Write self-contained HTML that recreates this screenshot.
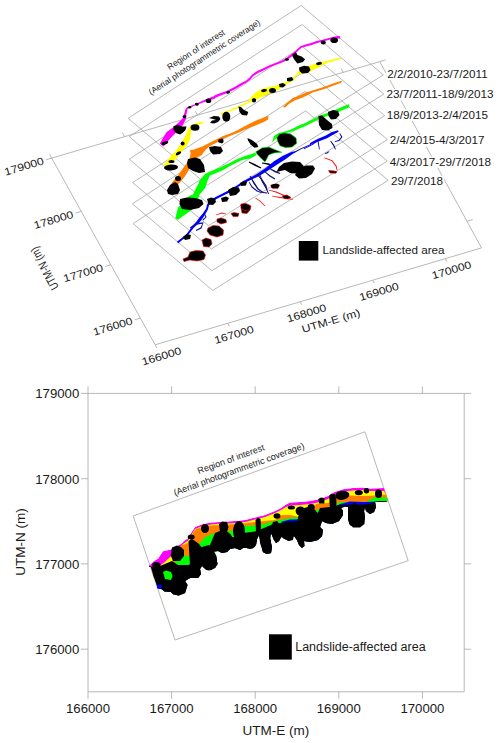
<!DOCTYPE html>
<html><head><meta charset="utf-8"><style>
html,body{margin:0;padding:0;background:#fff;}
svg{display:block;font-family:"Liberation Sans",sans-serif;}
</style></head><body>
<svg width="500" height="743" viewBox="0 0 500 743">
<rect width="500" height="743" fill="#fff"/>
<line x1="51.7" y1="158.1" x2="155.2" y2="344.8" stroke="#a6a6a6" stroke-width="0.8"/>
<line x1="155.2" y1="344.8" x2="481.5" y2="247.9" stroke="#a6a6a6" stroke-width="0.8"/>
<line x1="51.7" y1="158.1" x2="379.8" y2="61.6" stroke="#a6a6a6" stroke-width="0.8"/>
<line x1="379.8" y1="61.6" x2="481.5" y2="247.9" stroke="#a6a6a6" stroke-width="0.8"/>
<line x1="140.4" y1="318.1" x2="134.7" y2="319.8" stroke="#a6a6a6" stroke-width="0.8"/>
<line x1="467" y1="221.3" x2="472.7" y2="219.6" stroke="#a6a6a6" stroke-width="0.8"/>
<line x1="110.8" y1="264.8" x2="105.1" y2="266.5" stroke="#a6a6a6" stroke-width="0.8"/>
<line x1="437.9" y1="168.1" x2="443.7" y2="166.3" stroke="#a6a6a6" stroke-width="0.8"/>
<line x1="81.3" y1="211.4" x2="75.5" y2="213.2" stroke="#a6a6a6" stroke-width="0.8"/>
<line x1="408.9" y1="114.8" x2="414.6" y2="113.1" stroke="#a6a6a6" stroke-width="0.8"/>
<line x1="51.7" y1="158.1" x2="45.9" y2="159.8" stroke="#a6a6a6" stroke-width="0.8"/>
<line x1="379.8" y1="61.6" x2="385.6" y2="59.9" stroke="#a6a6a6" stroke-width="0.8"/>
<line x1="155.2" y1="344.8" x2="156.9" y2="347.9" stroke="#a6a6a6" stroke-width="0.8"/>
<line x1="51.7" y1="158.1" x2="49.5" y2="154.2" stroke="#a6a6a6" stroke-width="0.8"/>
<line x1="227.7" y1="323.3" x2="229.4" y2="326.3" stroke="#a6a6a6" stroke-width="0.8"/>
<line x1="124.6" y1="136.7" x2="122.4" y2="132.7" stroke="#a6a6a6" stroke-width="0.8"/>
<line x1="300.2" y1="301.7" x2="301.9" y2="304.8" stroke="#a6a6a6" stroke-width="0.8"/>
<line x1="197.5" y1="115.2" x2="195.3" y2="111.3" stroke="#a6a6a6" stroke-width="0.8"/>
<line x1="372.7" y1="280.2" x2="374.4" y2="283.3" stroke="#a6a6a6" stroke-width="0.8"/>
<line x1="270.4" y1="93.8" x2="268.3" y2="89.8" stroke="#a6a6a6" stroke-width="0.8"/>
<line x1="445.2" y1="258.7" x2="446.9" y2="261.7" stroke="#a6a6a6" stroke-width="0.8"/>
<line x1="343.3" y1="72.3" x2="341.2" y2="68.4" stroke="#a6a6a6" stroke-width="0.8"/>
<polygon points="128.1,118.3 301.2,5.5 383.4,74.9 207.3,185" fill="none" stroke="#a6a6a6" stroke-width="0.8"/>
<polygon points="129.2,136.6 302.1,24.5 383.9,94.1 208.1,203.5" fill="none" stroke="#a6a6a6" stroke-width="0.8"/>
<polygon points="129.2,159.2 302.4,46.5 384.6,115.7 208.5,225.7" fill="none" stroke="#a6a6a6" stroke-width="0.8"/>
<polygon points="132.7,182.6 305.9,70.5 387.4,139.6 211.3,249" fill="none" stroke="#a6a6a6" stroke-width="0.8"/>
<polygon points="132.4,203.8 305,91.4 387.3,161.1 211.9,270.7" fill="none" stroke="#a6a6a6" stroke-width="0.8"/>
<polygon points="133.1,223.6 305.7,110.8 388.2,180.3 212.8,290.4" fill="none" stroke="#a6a6a6" stroke-width="0.8"/>
<text x="0" y="0" font-size="12" text-anchor="end" dominant-baseline="central" fill="#1a1a1a" transform="translate(43.6,160.5) rotate(-16.54) scale(1.02,0.88)">179000</text>
<text x="0" y="0" font-size="12" text-anchor="end" dominant-baseline="central" fill="#1a1a1a" transform="translate(73.1,213.9) rotate(-16.54) scale(1.02,0.88)">178000</text>
<text x="0" y="0" font-size="12" text-anchor="end" dominant-baseline="central" fill="#1a1a1a" transform="translate(102.7,267.2) rotate(-16.54) scale(1.02,0.88)">177000</text>
<text x="0" y="0" font-size="12" text-anchor="end" dominant-baseline="central" fill="#1a1a1a" transform="translate(132.3,320.5) rotate(-16.54) scale(1.02,0.88)">176000</text>
<text x="0" y="0" font-size="12" text-anchor="middle" dominant-baseline="central" fill="#1a1a1a" transform="translate(161.5,356.2) rotate(-16.54) scale(1.02,0.88)">166000</text>
<text x="0" y="0" font-size="12" text-anchor="middle" dominant-baseline="central" fill="#1a1a1a" transform="translate(234,334.6) rotate(-16.54) scale(1.02,0.88)">167000</text>
<text x="0" y="0" font-size="12" text-anchor="middle" dominant-baseline="central" fill="#1a1a1a" transform="translate(306.5,313.1) rotate(-16.54) scale(1.02,0.88)">168000</text>
<text x="0" y="0" font-size="12" text-anchor="middle" dominant-baseline="central" fill="#1a1a1a" transform="translate(379,291.6) rotate(-16.54) scale(1.02,0.88)">169000</text>
<text x="0" y="0" font-size="12" text-anchor="middle" dominant-baseline="central" fill="#1a1a1a" transform="translate(451.5,270) rotate(-16.54) scale(1.02,0.88)">170000</text>
<text x="0" y="0" font-size="12" text-anchor="middle" dominant-baseline="central" fill="#1a1a1a" transform="translate(331,320.8) rotate(-16.54) scale(1.02,0.88)">UTM-E (m)</text>
<text x="0" y="0" font-size="12" text-anchor="middle" dominant-baseline="central" fill="#1a1a1a" transform="translate(44.2,268.6) rotate(-118) scale(0.78,1)">UTM-N (m)</text>
<text x="197.5" y="52" font-size="8.5" text-anchor="middle" fill="#1a1a1a" transform="rotate(-33 197.5 52)">Region of interest</text>
<text x="206" y="59.5" font-size="8.5" text-anchor="middle" fill="#1a1a1a" transform="rotate(-33 206 59.5)">(Aerial photogrammetric coverage)</text>
<rect x="298.8" y="241" width="19.5" height="19.6" fill="#000"/>
<text x="322.6" y="254.3" font-size="11.7" text-anchor="start" fill="#1a1a1a">Landslide-affected area</text>
<line x1="88" y1="393.4" x2="464.2" y2="393.4" stroke="#a6a6a6" stroke-width="0.8"/>
<line x1="88" y1="393.4" x2="88" y2="691.8" stroke="#a6a6a6" stroke-width="0.8"/>
<line x1="88" y1="691.8" x2="464.2" y2="691.8" stroke="#a6a6a6" stroke-width="0.8"/>
<line x1="464.2" y1="393.4" x2="464.2" y2="691.8" stroke="#a6a6a6" stroke-width="0.8"/>
<line x1="88" y1="691.8" x2="88" y2="698.8" stroke="#a6a6a6" stroke-width="0.8"/>
<line x1="88" y1="393.4" x2="88" y2="386.4" stroke="#a6a6a6" stroke-width="0.8"/>
<text x="88" y="713.4" font-size="13.2" text-anchor="middle" fill="#1a1a1a">166000</text>
<line x1="171.6" y1="691.8" x2="171.6" y2="698.8" stroke="#a6a6a6" stroke-width="0.8"/>
<line x1="171.6" y1="393.4" x2="171.6" y2="386.4" stroke="#a6a6a6" stroke-width="0.8"/>
<text x="171.6" y="713.4" font-size="13.2" text-anchor="middle" fill="#1a1a1a">167000</text>
<line x1="255.2" y1="691.8" x2="255.2" y2="698.8" stroke="#a6a6a6" stroke-width="0.8"/>
<line x1="255.2" y1="393.4" x2="255.2" y2="386.4" stroke="#a6a6a6" stroke-width="0.8"/>
<text x="255.2" y="713.4" font-size="13.2" text-anchor="middle" fill="#1a1a1a">168000</text>
<line x1="338.8" y1="691.8" x2="338.8" y2="698.8" stroke="#a6a6a6" stroke-width="0.8"/>
<line x1="338.8" y1="393.4" x2="338.8" y2="386.4" stroke="#a6a6a6" stroke-width="0.8"/>
<text x="338.8" y="713.4" font-size="13.2" text-anchor="middle" fill="#1a1a1a">169000</text>
<line x1="422.4" y1="691.8" x2="422.4" y2="698.8" stroke="#a6a6a6" stroke-width="0.8"/>
<line x1="422.4" y1="393.4" x2="422.4" y2="386.4" stroke="#a6a6a6" stroke-width="0.8"/>
<text x="422.4" y="713.4" font-size="13.2" text-anchor="middle" fill="#1a1a1a">170000</text>
<line x1="81" y1="649.2" x2="88" y2="649.2" stroke="#a6a6a6" stroke-width="0.8"/>
<line x1="464.2" y1="649.2" x2="471.2" y2="649.2" stroke="#a6a6a6" stroke-width="0.8"/>
<text x="79.3" y="654" font-size="13.2" text-anchor="end" fill="#1a1a1a">176000</text>
<line x1="81" y1="563.9" x2="88" y2="563.9" stroke="#a6a6a6" stroke-width="0.8"/>
<line x1="464.2" y1="563.9" x2="471.2" y2="563.9" stroke="#a6a6a6" stroke-width="0.8"/>
<text x="79.3" y="568.7" font-size="13.2" text-anchor="end" fill="#1a1a1a">177000</text>
<line x1="81" y1="478.7" x2="88" y2="478.7" stroke="#a6a6a6" stroke-width="0.8"/>
<line x1="464.2" y1="478.7" x2="471.2" y2="478.7" stroke="#a6a6a6" stroke-width="0.8"/>
<text x="79.3" y="483.5" font-size="13.2" text-anchor="end" fill="#1a1a1a">178000</text>
<line x1="81" y1="393.4" x2="88" y2="393.4" stroke="#a6a6a6" stroke-width="0.8"/>
<line x1="464.2" y1="393.4" x2="471.2" y2="393.4" stroke="#a6a6a6" stroke-width="0.8"/>
<text x="79.3" y="398.2" font-size="13.2" text-anchor="end" fill="#1a1a1a">179000</text>
<text x="275.8" y="735" font-size="13.5" text-anchor="middle" fill="#1a1a1a">UTM-E (m)</text>
<text x="0" y="0" font-size="13.5" text-anchor="middle" fill="#1a1a1a" transform="translate(25.3,542) rotate(-90)">UTM-N (m)</text>
<polygon points="133.2,516 365,431.8 408.2,560.7 175,640" fill="none" stroke="#a6a6a6" stroke-width="0.8"/>
<text x="232" y="462" font-size="9" text-anchor="middle" fill="#1a1a1a" transform="rotate(-20 232 462)">Region of interest</text>
<text x="240" y="472" font-size="9" text-anchor="middle" fill="#1a1a1a" transform="rotate(-20 240 472)">(Aerial photogrammetric coverage)</text>
<rect x="269" y="634.3" width="22.8" height="25.3" fill="#000"/>
<text x="295.2" y="651" font-size="12.5" text-anchor="start" fill="#1a1a1a">Landslide-affected area</text>
<polygon points="214.5,98.3 219.4,95.9 227.4,93.1 235.5,89 241.3,85.4 246.9,82.3 250.7,79.2 253.1,76.3 258.1,72.9 263.6,70.4 269.2,67.5 275.4,65.1 281,63 286.8,60.2 292.4,55.9 296.6,52.3 301.4,47.8 306,46.4 311.7,44.9 317.3,42.9 322.8,41.5 328.4,40.1 334,38.8 338.1,38.4 339.8,38.7 340.2,36.3 337.9,36 333.6,36.8 328,38.3 322.4,39.7 316.7,41.1 311.1,43.1 305.6,44.6 300.4,46.2 295.4,50.9 291.2,54.3 285.6,58.4 280.2,61.2 274.6,63.3 268.4,65.7 262.8,68.6 257.1,71.1 251.9,74.7 249.3,77.8 245.9,80.7 240.3,83.6 234.5,87 226.6,90.9 218.6,93.7 213.5,96.1" fill="#ff00ff"/>
<polygon points="259,151.2 266,151.4 272,151.7 272,151.3 266,150.6 259,150.8" fill="#00ff00"/>
<polygon points="259.9,154.2 263.8,155.8 265.8,158.2 266.2,157.8 264.2,155.2 260.1,153.8" fill="#00ff00"/>
<polygon points="248.7,162.5 254.6,165.7 260.7,168.5 261.3,167.5 255.4,164.3 249.3,161.5" fill="#000"/>
<polygon points="261.9,163.5 267.8,164.7 273.8,166.5 274.2,165.5 268.2,163.3 262.1,162.5" fill="#000"/>
<polygon points="178.1,243.3 182.6,239.8 187.7,235.7 190.8,231.6 193.8,227.7 199.1,223 202.2,218.9 205,214.7 207.9,209.4 208.9,205.4 210.7,202.8 216.5,198.9 222.4,195.9 230.5,191.9 238.5,186.8 244.6,182.9 249.6,180.6 258.3,176.5 267.4,171.1 276.4,164.9 285.1,159.5 292.6,154.1 296.2,152.1 295.8,150.9 291.4,151.9 282.9,155.7 274,161.3 265.4,168.3 256.9,173.9 248.4,178.4 243.4,181.1 237.5,185.2 229.5,190.1 221.6,194.1 215.5,197.1 209.3,201.2 207.1,204.6 206.1,208.6 203,213.3 199.8,217.1 196.9,221 192.2,226.3 189.2,230.4 186.3,234.3 181.4,238.2 176.9,241.7" fill="#0000ff"/>
<polygon points="309.9,145.5 311.5,144.3 318.5,141.4 327,138.2 332.6,134.9 338.6,131.7 338,130.3 331.4,132.3 325.8,135.4 317.5,139 310.5,142.7 309.3,144.9" fill="#0000ff"/>
<polygon points="296.2,151.9 301.4,149.1 309.8,145.6 309.4,144.8 301,148.3 295.8,151.1" fill="#00008b"/>
<polygon points="304,149.2 312.9,144.8 317.3,141.5 316.7,140.7 312.3,144 303.6,148.4" fill="#0000ff"/>
<polygon points="317.6,139.7 318,144.1 319,149.5 319.8,149.3 319,143.9 318.4,139.5" fill="#1010a0"/>
<polygon points="330.2,141.3 332.9,145.3 335.1,149.6 335.9,149.2 334.1,144.7 331,140.7" fill="#1010a0"/>
<polygon points="339.4,133.5 341.1,136.9 338.7,140 334.7,141.3 334.9,142.1 339.3,141 342.5,137.1 340,133.1" fill="#1010a0"/>
<polygon points="325.1,154 327.3,153.5 329.4,151.8 329,151.2 326.7,152.5 324.9,153.2" fill="#1010a0"/>
<polygon points="259.4,174.1 261.5,181.2 265.5,188.3 268.2,194.2 269,193.8 266.5,187.7 262.5,180.8 260.2,173.9" fill="#1010a0"/>
<polygon points="248.7,182.2 251.6,187.4 256.7,191.5 261.9,193.2 262.1,192.4 257.3,190.5 252.4,186.6 249.3,181.8" fill="#1010a0"/>
<polygon points="190.3,228.4 196.3,224.7 202.4,223.7 200.5,227.5 195.8,230.1 196.2,230.9 201.5,228.5 203.6,222.3 195.7,223.3 189.7,227.6" fill="#1010a0"/>
<polygon points="203.6,213.2 205.4,216.9 202.6,219.6 203.4,220.4 206.6,217.1 204.4,212.8" fill="#1010a0"/>
<polygon points="324.2,158.2 331.7,161 335.8,166.4 336.6,170.1 337.4,169.9 336.6,166 332.3,160.2 324.4,157.4" fill="#ff0000"/>
<polygon points="268.5,190.3 275.9,192.4 282.9,195.4 289.9,197.3 290.1,196.7 283.1,194.6 276.1,191.6 268.7,189.7" fill="#ff0000"/>
<polygon points="271.9,196.3 279.9,197.9 292.7,199.7 292.9,199.1 280.1,197.1 272.1,195.7" fill="#ff0000"/>
<polygon points="255.2,198.3 259.7,201.3 264.8,206.2 265.2,205.8 260.3,200.7 255.6,197.7" fill="#ff0000"/>
<polygon points="216.1,215.3 222,213.4 225.9,214.3 226.1,213.7 222,212.6 215.9,214.7" fill="#ff0000"/>
<polygon points="249.6,176.2 253.4,183.4 257.5,189.5 262.7,193.1 266.9,193.4 267.1,192.6 263.3,191.9 258.5,188.5 254.6,182.6 250.4,175.8" fill="#10106a"/>
<polygon points="256.7,174.3 261.5,180.4 265.4,186.3 266.6,190.1 267.4,189.9 266.6,185.7 262.5,179.6 257.3,173.7" fill="#10106a"/>
<polygon points="263.7,171.3 269.6,176.5 274.7,179.5 275.3,178.5 270.4,175.5 264.3,170.7" fill="#10106a"/>
<polygon points="270.2,169.4 274.7,172.2 279.8,174 280.2,173 275.3,170.8 270.6,168.6" fill="#10106a"/>
<polygon points="159.8,143.6 166.4,132.2 173,127.4 177.2,123.8 182.6,118.4 184.4,113 185.6,108.8 187.4,107 191,105.8 195,104.2 199.4,102.2 205.4,99.6 211,97.2 215,96 215,98.4 209,100.6 203,102.4 197,104.8 191,107.2 187.6,109 186.5,114 186,119 182.5,125.6 177,131.5 171.5,137 166,143.5 163.4,146.5" fill="#ff00ff"/>
<polygon points="173.5,126 178,125 182,126.5 186.5,126.5 185.5,130 183,132.5 180,134.5 176,133 173.5,130" fill="#000"/>
<polygon points="292.5,54.4 296,52.3 297.4,55.1 301.6,56.5 305.1,59.3 303,62.1 297.4,63.5 294.6,60 292.5,56.5" fill="#000"/>
<polygon points="163.2,166 166.5,161.6 170.9,156.1 175.3,151.7 180.8,144 185.2,136.3 188.5,128.6 190.7,125.3 196.2,123.1 203.9,121.3 202.8,123.3 194,126.6 191.2,130.8 190.2,138.5 187.8,144 183.4,149.5 179,155 174.6,160.5 170.2,164 166.5,166.5" fill="#ffff00"/>
<polygon points="220,113.5 230,109.5 240,105.5 248,101.5 252,96 256,92 264,88 274,86 284,83 288,80.6 294.4,76.6 299.2,70.2 304,67 310.4,65.4 316.8,63 320,62.2 326,61 334,59 341,57.4 341,59 330,62 322,65 320,67 313.6,69.4 308.8,72.6 302.4,73.9 297.6,74.5 294,80 284,86 276,91 266,95 258,99 253,101.5 248,103.3 240,107.2 230,111.2 221,115" fill="#ffff00"/>
<polygon points="299,67.5 304,65.8 309,66.5 310.5,70 308,73 302,73.5 299.5,71" fill="#000"/>
<polygon points="238.4,106.5 241,107 244,110 248.3,112 247,115.5 242,115 239.5,112" fill="#000"/>
<polygon points="209,118 214,116 219,116.5 220.5,119 218,122 214,123.5 210,123 212,120.5 216,120 213,119" fill="#000"/>
<polygon points="279,84 283,83 286,85 283,87.5 279.5,87" fill="#000"/>
<polygon points="287,78 292,77 293.5,80 290,81.5 287,81" fill="#000"/>
<polygon points="167.6,190.2 172,182.5 177.5,175.9 183,168.2 186.3,163.8 189.6,159.4 190.7,152.8 189.6,150.6 194,149.5 202.8,146.2 211.6,141.8 216,139.6 222.6,136.3 231.4,133 238,130 244,126.6 250,123.6 256,120.6 262,118.2 266.8,116.4 268.6,116 268,119.4 264.4,121.8 258.4,124.2 252.4,126.8 244,130 240.2,131.9 229.2,136.3 222.6,139.6 216,142.9 209.4,146.2 205,150.6 201.7,155 196.2,158.3 191.8,163.8 188.5,170.4 185.2,175.9 180.8,181.4 176.4,185.8 172,191.3" fill="#ff7f00"/>
<polygon points="282.9,106.9 287.3,102.5 292.8,98.1 298.3,95.9 306,92.6 312.6,90.4 323.6,87.1 332.4,83.8 340.1,81.2 342.3,80.5 341.2,82.7 332.4,86 323.6,89.3 312.6,92.6 306,95.9 301.6,98.1 295,100.3 289.5,103.6 285.1,107.6" fill="#ff7f00"/>
<polygon points="188,159 195,157.5 200,159 204,165 205,172 199,173 193,171 188,168 187,163" fill="#000"/>
<polygon points="209,147 215,146 221,147 223,151 220,154 213,154.5 210,151" fill="#000"/>
<polygon points="167,190 170,185 175,182 178,184 180,190 178,194 172,195 168,194" fill="#000"/>
<polygon points="247.4,138 251.9,140 257.1,143.9 258.4,147.1 254.5,147.8 250.6,144.5 248,140.6" fill="#000"/>
<polygon points="175.3,218.4 178,207.6 183.4,202.2 189,196 193,194.6 196.1,187.9 198.4,183.8 199.5,180.5 202.5,177.1 205,174 210,171.5 215,169.5 220,167.5 225,165 230,163 235,160 240,158 245,156 250,154.5 255.8,152.5 255.8,155.5 250,158.5 245,159.2 240,161 235,163.5 230,166 225,169 220,171.5 215,173.5 210,175.5 207.9,179.8 206.5,183.8 205.2,187.9 201.8,191.9 199.1,195.3 198.4,199.3 195,205 191.5,210.3 183.4,215.7 178,219.7" fill="#00ff00"/>
<polygon points="272,142.6 274,136 277.9,133.5 281.8,132.2 287,130.9 292.2,128.9 297.4,126.3 300,125 303.8,123.8 312.6,119.4 319.2,116.1 328,112.8 336.8,109.3 343.4,106.3 349,104.3 349.5,107.3 343.4,109.8 336.8,112.8 328,115.8 319.2,119.1 312.6,122.4 303.8,126.8 300,128.3 293.5,130.9 287,132.8 280.5,135.4 276.6,137.4 274,140.6" fill="#00ff00"/>
<polygon points="180,199 187,197.5 195,198 202,200 203.5,204 199,208 190,210 182,209 179.5,204" fill="#000"/>
<polygon points="279.2,134.1 284.4,132.8 290.9,134.1 296.1,138 296.8,143.2 292.2,147.1 285.7,147.8 279.9,145.8 277.9,141.9 276.6,138" fill="#000" stroke="#00ff00" stroke-width="0.6"/>
<polygon points="318.5,116 322,115.5 327,120 332,124 332.5,128 328,130.5 322,130 319,125" fill="#000"/>
<polygon points="328,112 333,110 338,111 339.5,115 336,119 331,119.5 328.5,116" fill="#000"/>
<polygon points="255.8,151.7 262.3,147.8 268.8,147.1 275.3,149.7 281.8,152.3 274,153 268.8,154.9 266.2,160.1 264.9,162.1 261,158.2 257.1,154.3" fill="#000" stroke="#00ff00" stroke-width="0.6"/>
<polygon points="207,199 211,197.5 215,198.5 216,202 213,205 208.5,204.5" fill="#000"/>
<polygon points="221,198 226,196.5 229,198 227,201.5 222,202" fill="#000"/>
<polygon points="228,190 233,187 239,187.5 240,191 236,195 230,196" fill="#000"/>
<polygon points="240,183 244,181 247,182 246,185.5 241,186" fill="#000"/>
<polygon points="183,237 187,234 191,235 190,239 185,240" fill="#000"/>
<polygon points="284,163 292,161.5 300,162 303.8,166 302,171 296,173.5 290,173 285,170 276.5,172 279,167" fill="#000"/>
<polygon points="300,168 306,165.5 313,165.5 315,168.5 312,174 306,178 299,178.5 295,175" fill="#000"/>
<polygon points="190,252 196,250.5 203,251 205.5,255 204,259.5 197,261 190,260 184,261.5 183,259 188,257" fill="#000" stroke="#ff0000" stroke-width="0.6"/>
<polygon points="202,240 206,238 211,239.5 212,244 209,247 203.5,246.5" fill="#000" stroke="#ff0000" stroke-width="0.6"/>
<polygon points="208,228 213,225.5 219,226 223.5,230 223,235 217,237 210,235 207,231" fill="#000" stroke="#ff0000" stroke-width="0.6"/>
<polygon points="217,219 221,218 226,219.5 226.5,222.5 221,224 217,222" fill="#000" stroke="#ff0000" stroke-width="0.6"/>
<polygon points="241,207 245,204.5 249.5,205 250,210 247,213.5 242,213" fill="#000" stroke="#ff0000" stroke-width="0.6"/>
<polygon points="231,213.5 234,212.5 239,213.5 238,216.5 233,216.5" fill="#000" stroke="#ff0000" stroke-width="0.6"/>
<polygon points="240.5,205 245,204 249,207 248,210 243,209.5" fill="#000" stroke="#ff0000" stroke-width="0.6"/>
<polygon points="328.5,170.5 333,170.8 337,171.5 336,173.2 330,173" fill="#000" stroke="#ff0000" stroke-width="0.6"/>
<polygon points="270.8,185 275,184 279.6,185 278,188.4 272,188" fill="#000" stroke="#ff0000" stroke-width="0.6"/>
<polygon points="282,196 287,195 291,197.5 288,199 284,198.5" fill="#000" stroke="#ff0000" stroke-width="0.6"/>
<polygon points="241,204 246,203.5 251,206 250,210 245,210.5 241,208.5" fill="#000" stroke="#ff0000" stroke-width="0.6"/>
<ellipse cx="164.9" cy="143" rx="3.5" ry="1.6" fill="#000" transform="rotate(-20 164.9 143)"/>
<ellipse cx="184.4" cy="116.6" rx="1.8" ry="1.6" fill="#000"/>
<ellipse cx="189.8" cy="107.2" rx="1.5" ry="1.3" fill="#000"/>
<ellipse cx="197" cy="104.5" rx="1.6" ry="1.2" fill="#000"/>
<ellipse cx="208.5" cy="100.8" rx="2.8" ry="2.3" fill="#000"/>
<ellipse cx="228.2" cy="92.2" rx="2" ry="1.3" fill="#000" transform="rotate(-20 228.2 92.2)"/>
<ellipse cx="196.8" cy="103.8" rx="1.8" ry="1.1" fill="#000"/>
<ellipse cx="286.9" cy="59.5" rx="2" ry="1.3" fill="#000"/>
<ellipse cx="323.3" cy="42.5" rx="2.5" ry="2" fill="#000"/>
<ellipse cx="334.2" cy="40.2" rx="3.8" ry="2.8" fill="#000"/>
<ellipse cx="319" cy="63.6" rx="3" ry="1.5" fill="#000" transform="rotate(-10 319 63.6)"/>
<ellipse cx="272.5" cy="90.5" rx="3.5" ry="2.5" fill="#000"/>
<ellipse cx="264" cy="90.6" rx="3" ry="1.5" fill="#000" transform="rotate(-10 264 90.6)"/>
<ellipse cx="254" cy="100.5" rx="2" ry="2" fill="#000"/>
<ellipse cx="195" cy="127.5" rx="4.4" ry="3.3" fill="#000"/>
<ellipse cx="182.6" cy="143.4" rx="2" ry="2" fill="#000"/>
<ellipse cx="178.5" cy="153.3" rx="3" ry="1.5" fill="#000" transform="rotate(-30 178.5 153.3)"/>
<ellipse cx="171.5" cy="161.5" rx="3" ry="1.5" fill="#000"/>
<ellipse cx="171" cy="167.5" rx="7" ry="3" fill="#000" transform="rotate(-5 171 167.5)"/>
<ellipse cx="226.3" cy="116.8" rx="4" ry="5" fill="#000"/>
<ellipse cx="254" cy="100" rx="2.2" ry="1.8" fill="#000"/>
<ellipse cx="178" cy="178.5" rx="3" ry="2.5" fill="#000"/>
<ellipse cx="220.5" cy="141" rx="2.5" ry="2" fill="#000"/>
<ellipse cx="221.8" cy="141" rx="1.8" ry="2.4" fill="#000"/>
<ellipse cx="275" cy="186" rx="4" ry="2" fill="#000" transform="rotate(-15 275 186)"/>
<clipPath id="cl"><polygon points="149.8,565 153.4,561.4 158.2,558.4 163,551.2 170.8,549.5 177,546 181,544 184,541 188.2,538 191,533 195,527 203,524 211,522.6 219,522 227,521.4 235,521 245,520 255,517.4 265,515 275,511 281,508 286,504.5 290,502.5 300,502 310,501 320,499 328,496 335,491.7 344,489 353,488.1 362,487.6 370,488.5 384,488 386,494 388,501 386,501 378,501 375,502 376,507 374,512 370,514 366,511 365,507 364,511 365,517 362,525 356,527 350,525 348,519 348,507 345,506.5 341,508 343,511 343,515 339,521 332,524 326,523 322,521 320,527 323,530 322,536 318,540 310,542 304,541 304.4,546 302,548 299,545 297,540 294,536 290,538 289,541 283,538 281,535 279,541 276,543 274,540 271,533 270,539 272,547 271,553 267,554 263,552 261,543 259,535 257,539 255,546 249,548 243,548 240,550 235,548 230,549 227,552 222,553 218,551 213,552 216,557 217.5,564 215,568 210,569.5 206,568 202,566 200,569 201,574 198,578 190,578 185,581 187.5,585 185,593 180,595 178.6,595.6 173,594.2 170.9,592.1 164.6,591.4 161.8,589.3 157.6,588 156.2,583 153.4,576 151.3,568.3 149.9,565"/></clipPath>
<polygon points="144.8,565 149.8,565 153.4,561.4 158.2,558.4 163,551.2 170.8,549.5 177,546 181,544 184,541 188.2,538 191,533 195,527 203,524 211,522.6 219,522 227,521.4 235,521 245,520 255,517.4 265,515 275,511 281,508 286,504.5 290,502.5 300,502 310,501 320,499 328,496 335,491.7 344,489 353,488.1 362,487.6 370,488.5 384,488 386,494 388,501 393,501 393,610 144.8,610" fill="#ff00ff" clip-path="url(#cl)"/>
<polygon points="147.2,571 152.2,571 156,568 160,565.5 164.2,562.5 169,558 172,555.5 177,548 181,546 184,543.2 188.2,540.5 191,535.5 195,529 203,525.8 211,524.4 219,523.8 227,523.4 235,523 245,522 255,519.5 265,517 275,513 281,510 286,507 290,505.5 300,505 310,504 320,502 328,499 335,494.2 344,491.5 353,490.6 362,490 370,491 384,491 386,494.5 388,501 393,501 393,610 147.2,610" fill="#ffff00" clip-path="url(#cl)"/>
<polygon points="145,575 150,575 165,570 172,562 178,551 180,546 184,544.5 189,542.5 193,533 196,529 204,526.5 211,525.5 219,525 228.6,524.5 243,523.5 255,522 265,521 275,520 282,515 290,515 300,517 310,516 316,504 328,503 335,498.5 340,496.5 350,495.5 363,496 376,495.5 384,494.5 387,495 388,501 393,501 393,610 145,610" fill="#ff7f00" clip-path="url(#cl)"/>
<polygon points="145,580 150,580 165,578 172,570 178,555 190,556 196,548 199,544 205,537 212,534 219,532 226,531.5 235,530 243,526 255,525.5 264,524 273,521.5 282,519.5 290,518 300,517 316,510 330,507 340,502 348,502 364,503 374,497.5 388,497.5 388,501 393,501 393,610 145,610" fill="#00ff00" clip-path="url(#cl)"/>
<polygon points="145,582 150,582 280,524 282,521.5 290,519.5 296,519.5 316,513 330,509 340,504 350,501.5 364,502 376,501.5 388,501.5 393,501.5 393,610 145,610" fill="#0000ff" clip-path="url(#cl)"/>
<polygon points="149,567 160,566 172,561 178,565 190,565 196,549 205,546 210,545 215,533 220,531 226,533 228,537 235,537 240,535 243,533 255,531.5 264,528 273,524 282,523 290,522 296,521 305,520 316,518 320,508 330,507 340,505 350,504.5 364,504.5 376,502 388,502 386,501 378,501 375,502 376,507 374,512 370,514 366,511 365,507 364,511 365,517 362,525 356,527 350,525 348,519 348,507 345,506.5 341,508 343,511 343,515 339,521 332,524 326,523 322,521 320,527 323,530 322,536 318,540 310,542 304,541 304.4,546 302,548 299,545 297,540 294,536 290,538 289,541 283,538 281,535 279,541 276,543 274,540 271,533 270,539 272,547 271,553 267,554 263,552 261,543 259,535 257,539 255,546 249,548 243,548 240,550 235,548 230,549 227,552 222,553 218,551 213,552 216,557 217.5,564 215,568 210,569.5 206,568 202,566 200,569 201,574 198,578 190,578 185,581 187.5,585 185,593 180,595 178.6,595.6 173,594.2 170.9,592.1 164.6,591.4 161.8,589.3 157.6,588 156.2,583 153.4,576 151.3,568.3 149.9,565" fill="#000"/>
<polygon points="163,572 166,570.5 171,572 172.6,576 171,580 165,579" fill="#00ff00"/>
<polygon points="156.9,585 160,584.5 162.5,586 160,589 157.5,588.5" fill="#0000ff"/>
<polygon points="172,547.6 177,545.6 181,547 184,550 184,556 180,561 173,561 170.6,555" fill="#000"/>
<polygon points="188.5,541 192,539 195,541 199,544 202,548 202.6,560 197,566 190,565" fill="#000"/>
<polygon points="219,524 222,521.5 227,522 228.5,527 227,532 220,532" fill="#000"/>
<polygon points="255.5,520 258,517.8 260.5,519 261,527 260,533 256,533" fill="#000"/>
<polygon points="259,533 263,531 268,533 271,540 270,548 267,554 263,552 260,543" fill="#000"/>
<polygon points="271.2,527 273,522 277,521 281,526 283,535 279,541 274,540 271.5,533" fill="#000"/>
<polygon points="282,524 287,521 293,522 295,530 293,540 289,541 283,538" fill="#000"/>
<polygon points="329.2,496 331,493.8 335,494 336.4,500 336.4,507 334,510 330,510" fill="#000"/>
<polygon points="318.4,499 321,497.4 324.4,498 324.4,503.4 319,503.4" fill="#000"/>
<polygon points="354.4,502 358,505 362,511 365,518 364.5,524 360,527.5 353,527.5 349,523.5 348.3,516 350.5,508" fill="#000"/>
<ellipse cx="156.4" cy="565" rx="4.2" ry="3" fill="#000"/>
<ellipse cx="191.2" cy="537" rx="3.5" ry="2.5" fill="#000"/>
<ellipse cx="205" cy="528.5" rx="4" ry="4.5" fill="#000"/>
<ellipse cx="239" cy="531" rx="6" ry="10" fill="#000"/>
<ellipse cx="277" cy="516" rx="3.5" ry="2.8" fill="#000"/>
<ellipse cx="291.4" cy="507.6" rx="3.6" ry="2" fill="#000"/>
<ellipse cx="300.4" cy="511" rx="4.8" ry="4.5" fill="#000"/>
<ellipse cx="311.2" cy="507.3" rx="3.6" ry="3.3" fill="#000"/>
<ellipse cx="308.4" cy="519.6" rx="10.4" ry="12.6" fill="#000"/>
<ellipse cx="342.2" cy="495.3" rx="7.2" ry="4.5" fill="#000" transform="rotate(-8 342.2 495.3)"/>
<ellipse cx="358.8" cy="492.6" rx="4" ry="2.6" fill="#000"/>
<ellipse cx="366.5" cy="490.7" rx="2.7" ry="2.7" fill="#000"/>
<ellipse cx="378.5" cy="493.7" rx="3.5" ry="4.2" fill="#000"/>
<ellipse cx="209" cy="560" rx="8" ry="10.5" fill="#000"/>
<ellipse cx="224" cy="541" rx="9" ry="10" fill="#000"/>
<ellipse cx="250" cy="541" rx="7" ry="8" fill="#000"/>
<ellipse cx="291" cy="509" rx="0.1" ry="0.1" fill="#000"/>
<rect x="386.2" y="68.6" width="102.6" height="11.5" fill="#fff"/>
<text x="387.2" y="77.8" font-size="11.7" fill="#1a1a1a">2/2/2010-23/7/2011</text>
<rect x="385.6" y="89" width="109.1" height="11.5" fill="#fff"/>
<text x="386.6" y="98.2" font-size="11.7" fill="#1a1a1a">23/7/2011-18/9/2013</text>
<rect x="385.7" y="109.4" width="103.5" height="11.5" fill="#fff"/>
<text x="386.7" y="118.6" font-size="11.7" fill="#1a1a1a">18/9/2013-2/4/2015</text>
<rect x="388.7" y="135" width="97" height="11.5" fill="#fff"/>
<text x="389.7" y="144.2" font-size="11.7" fill="#1a1a1a">2/4/2015-4/3/2017</text>
<rect x="388.7" y="156.6" width="103.5" height="11.5" fill="#fff"/>
<text x="389.7" y="165.8" font-size="11.7" fill="#1a1a1a">4/3/2017-29/7/2018</text>
<rect x="390.1" y="175.8" width="54" height="11.5" fill="#fff"/>
<text x="391.1" y="185.0" font-size="11.7" fill="#1a1a1a">29/7/2018</text>
</svg></body></html>
